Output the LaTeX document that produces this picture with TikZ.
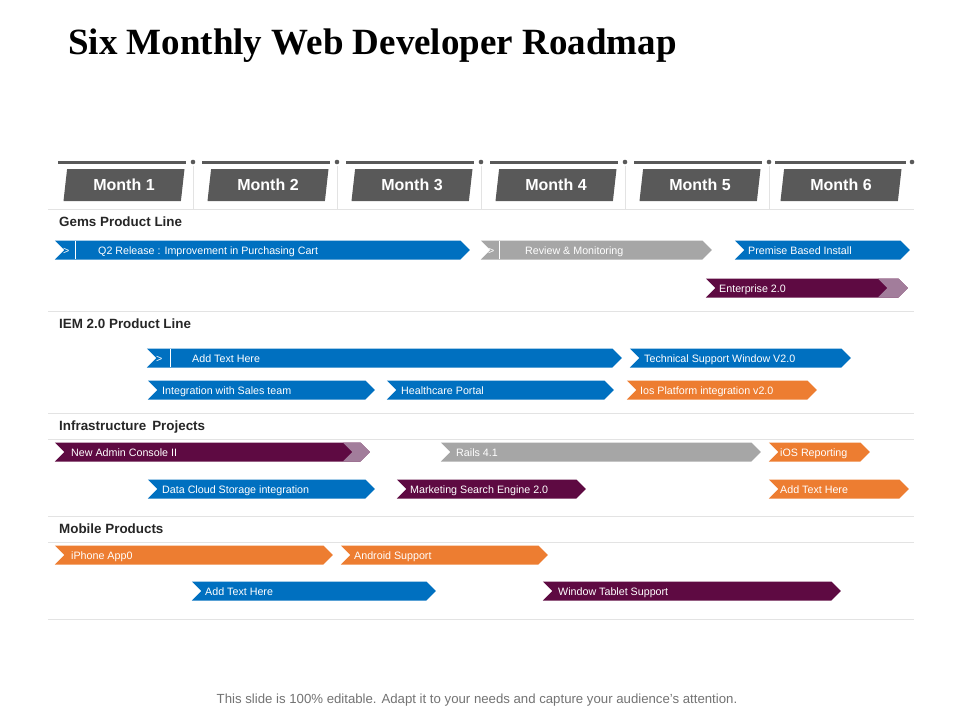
\documentclass[tikz,border=0pt]{standalone}
\usepackage{fontspec}
\setmainfont{Liberation Sans}
\newfontfamily\titlefont{Liberation Serif}
\usetikzlibrary{shapes.symbols,shapes.geometric}
\definecolor{cblue}{HTML}{0070C0}
\definecolor{cgray}{HTML}{A6A6A6}
\definecolor{corange}{HTML}{ED7D31}
\definecolor{cpurple}{HTML}{5E0A42}
\definecolor{cmauve}{HTML}{A27D9B}
\definecolor{cdark}{HTML}{595959}
\definecolor{cline}{HTML}{E3E3E3}
\tikzset{
  barbox/.style={shape=signal, signal from=west, signal to=east, minimum height=19pt, inner sep=0pt, draw=none, anchor=west, xshift=9pt},
  bartext/.style={anchor=west, text=white, font=\fontsize{10.7}{10.7}\selectfont, inner sep=0pt, text height=7.8pt, text depth=2.2pt, yshift=-1.6pt},
  monthbox/.style={trapezium, trapezium left angle=73, trapezium right angle=107, fill=cdark, minimum width=121pt, minimum height=32pt, inner sep=0pt, text=white, font=\bfseries\fontsize{16}{16}\selectfont, trapezium stretches body},
  sect/.style={anchor=west, font=\bfseries\fontsize{13.4}{13.4}\selectfont, text=black!85, inner sep=0pt},
  sepline/.style={cline, line width=1pt},
}
\newcommand{\mybar}[7]{%
  \pgfmathsetmacro{\bw}{#3-#2}%
  \node[barbox, fill=#5, minimum width=\bw pt] (#1) at (#2,#4) {};
  \node[bartext] (#1t) at (#6,#4) {#7};}
\begin{document}
\begin{tikzpicture}[x=1pt,y=-1pt]
\useasboundingbox[fill=white] (0,0) rectangle (960,720);
\node[anchor=west, font=\titlefont\bfseries\fontsize{37}{37}\selectfont, inner sep=0pt] (title) at (68,46) {Six Monthly Web Developer Roadmap};
% header
\foreach \a/\b/\d [count=\i] in {58/186/193,202/330/337,346/474/481,490/618/625,634/762/769,775/906/912}{
  \draw[cdark, line width=3pt] (\a,162) -- (\b,162);
  \fill[cdark] (\d,162) circle (2.3);
}
\foreach \d in {193,337,481,625,769}{ \draw[sepline] (\d,166) -- (\d,209); }
\foreach \c/\n in {124/1,268/2,412/3,556/4,700/5,841/6}{
  \node[monthbox] (m\n) at (\c,185) {Month \n};
}
\foreach \y in {209,311,413,439,516,542,619}{ \draw[sepline] (48,\y) -- (914,\y); }
\node[sect] (s1) at (59,222) {Gems Product Line};
\node[sect] (s2) at (59,324) {IEM 2.0 Product Line};
\node[sect] (s3) at (59,427) {Infrastructure\, Projects};
\node[sect] (s4) at (59,529) {Mobile Products};
% Gems
\mybar{q2}{55}{470}{250}{cblue}{98}{Q2 Release : Improvement in Purchasing Cart}
\draw[white, line width=1pt] (75,241) -- (75,259);
\node[bartext] (q2c) at (63,250) {>};
\mybar{rev}{481}{712}{250}{cgray}{525}{Review \& Monitoring}
\draw[white, line width=1pt] (499,241) -- (499,259);
\node[bartext] (revc) at (488,250) {>};
\mybar{prem}{735}{910}{250}{cblue}{748}{Premise Based Install}
\mybar{ent}{706}{908}{288}{cpurple}{719}{Enterprise 2.0}
\node[barbox, fill=cmauve, minimum width=30pt] (entm) at (878,288) {};
% IEM
\mybar{add1}{147}{622}{358}{cblue}{192}{Add Text Here}
\draw[white, line width=1pt] (170,349) -- (170,367);
\node[bartext] (add1c) at (156,358) {>};
\mybar{tech}{630}{851}{358}{cblue}{644}{Technical Support Window V2.0}
\mybar{integ}{148}{375}{390}{cblue}{162}{Integration with Sales team}
\mybar{health}{387}{614}{390}{cblue}{401}{Healthcare Portal}
\mybar{ios}{627}{817}{390}{corange}{640}{Ios Platform integration v2.0}
% Infrastructure
\mybar{admin}{55}{370}{452}{cpurple}{71}{New Admin Console II}
\node[barbox, fill=cmauve, minimum width=27pt] (adminm) at (343,452) {};
\mybar{rails}{441}{761}{452}{cgray}{456}{Rails 4.1}
\mybar{iosr}{769}{870}{452}{corange}{780}{iOS Reporting}
\mybar{cloud}{148}{375}{489}{cblue}{162}{Data Cloud Storage integration}
\mybar{mkt}{397}{586}{489}{cpurple}{410}{Marketing Search Engine 2.0}
\mybar{add2}{769}{909}{489}{corange}{780}{Add Text Here}
% Mobile
\mybar{iph}{55}{333}{555}{corange}{71}{iPhone App0}
\mybar{andr}{341}{548}{555}{corange}{354}{Android Support}
\mybar{add3}{192}{436}{591}{cblue}{205}{Add Text Here}
\mybar{win}{543}{841}{591}{cpurple}{558}{Window Tablet Support}
\node[font=\fontsize{13.2}{13.2}\selectfont, text=black!55] (foot) at (477,700) {This slide is 100\% editable. Adapt it to your needs and capture your audience's attention.};
\end{tikzpicture}
\end{document}
